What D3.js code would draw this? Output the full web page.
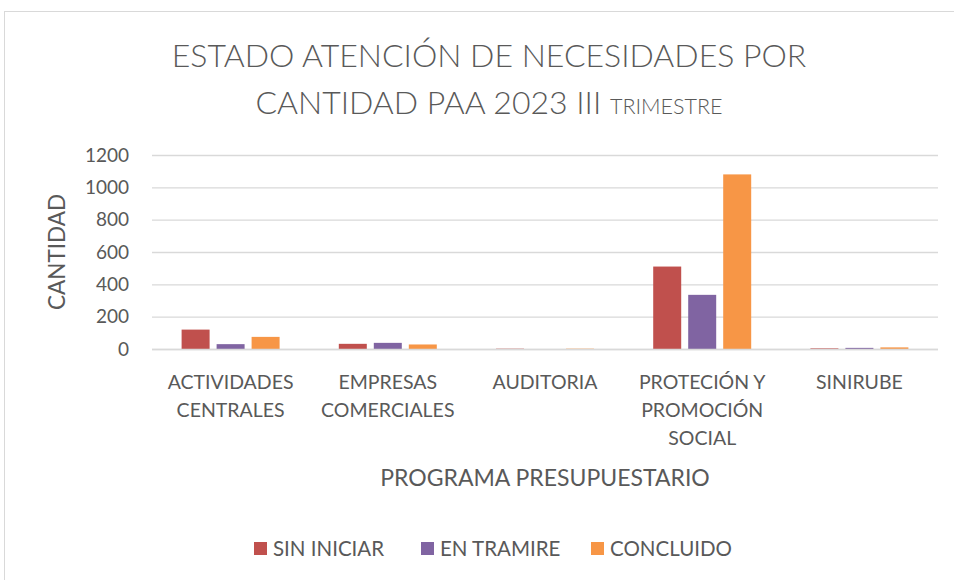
<!DOCTYPE html>
<html><head><meta charset="utf-8">
<script src="https://cdn.jsdelivr.net/npm/d3@7"></script>
<style>body{margin:0;background:#fff}svg{display:block}text{font-family:Lato,"Open Sans",sans-serif;fill:#595959}</style>
</head><body><svg id="c" width="954" height="580"></svg>
<script>
const categories = ["ACTIVIDADES CENTRALES","EMPRESAS COMERCIALES","AUDITORIA","PROTECIÓN Y PROMOCIÓN SOCIAL","SINIRUBE"];
const seriesNames = ["SIN INICIAR","EN TRAMIRE","CONCLUIDO"];
const sinIniciar = [120, 32, 2, 510, 4];
const enTramire = [30, 38, 0, 335, 7];
const concluido = [75, 28, 2, 1080, 10];
const yTicks = [0,200,400,600,800,1000,1200];
const colors = ["#C0504D","#8064A2","#F79646"];
const seriesValues = [sinIniciar, enTramire, concluido];

const svg = d3.select("#c");
svg.append("rect").attr("x",4.5).attr("y",11.5).attr("width",1000).attr("height",1000)
  .attr("fill","#fff").attr("stroke","#d9d9d9");

const L=152, R=938, T=155, B=349;
const x = d3.scaleBand().domain(categories).range([L,R]);
const xs = d3.scaleBand().domain(seriesNames).range([0,x.bandwidth()]).paddingInner(0.2).paddingOuter(0.846);
const y = d3.scaleLinear().domain([0,1200]).range([B,T]);

// gridlines
svg.append("g").selectAll("line").data(yTicks).join("line")
  .attr("x1",L).attr("x2",R).attr("y1",d=>y(d)+0.5).attr("y2",d=>y(d)+0.5)
  .attr("stroke","#d9d9d9").attr("stroke-width",1.3);

// y axis labels
const yAxis = d3.axisLeft(y).tickValues(yTicks).tickSize(0).tickPadding(0).tickFormat(d3.format("d"));
const gy = svg.append("g").attr("transform",`translate(129,0)`).call(yAxis);
gy.select(".domain").remove();
gy.selectAll("text").attr("font-size",19).style("fill","#595959").attr("font-family","Lato");

// bars
seriesValues.forEach((vals,si)=>{
  svg.append("g").selectAll("rect").data(vals).join("rect")
    .attr("x",(d,i)=>x(categories[i])+xs(seriesNames[si]))
    .attr("width",xs.bandwidth())
    .attr("y",d=>y(d)).attr("height",d=>B-y(d))
    .attr("fill",colors[si]);
});
// baseline
svg.append("line").attr("x1",L).attr("x2",R).attr("y1",B+0.5).attr("y2",B+0.5).attr("stroke","#d9d9d9").attr("stroke-width",1.3);

// x labels (wrap)
function wrap(str,maxW){
  const words=str.split(" "); const lines=[]; let cur="";
  const tmp=svg.append("text").attr("font-size",19.5);
  words.forEach(w=>{const t=cur?cur+" "+w:w; tmp.text(t);
    if(tmp.node().getComputedTextLength()>maxW && cur){lines.push(cur);cur=w;} else cur=t;});
  if(cur)lines.push(cur); tmp.remove(); return lines;
}
categories.forEach(c=>{
  const lines=wrap(c,140);
  const t=svg.append("text").attr("text-anchor","middle").attr("font-size",19.5);
  lines.forEach((ln,i)=>t.append("tspan").attr("x",x(c)+x.bandwidth()/2).attr("y",389+i*28).text(ln));
});

// axis titles
svg.append("text").attr("x",545).attr("y",486).attr("text-anchor","middle").attr("font-size",23).text("PROGRAMA PRESUPUESTARIO");
svg.append("text").attr("transform","translate(65,252) rotate(-90)").attr("text-anchor","middle").attr("font-size",22.5).text("CANTIDAD");

// title
svg.append("text").attr("x",489).attr("y",67).attr("text-anchor","middle").attr("font-size",32).attr("font-weight",300).text("ESTADO ATENCIÓN DE NECESIDADES POR");
const t2=svg.append("text").attr("x",489).attr("y",114).attr("text-anchor","middle").attr("font-size",32).attr("font-weight",300);
t2.append("tspan").text("CANTIDAD PAA 2023 III ");
t2.append("tspan").attr("font-size",21.5).text("TRIMESTRE");

// legend
const legX=[254,421,591];
seriesNames.forEach((n,i)=>{
  svg.append("rect").attr("x",legX[i]).attr("y",542).attr("width",13).attr("height",13).attr("fill",colors[i]);
  svg.append("text").attr("x",legX[i]+19).attr("y",556).attr("font-size",20.5).text(n);
});
</script></body></html>
